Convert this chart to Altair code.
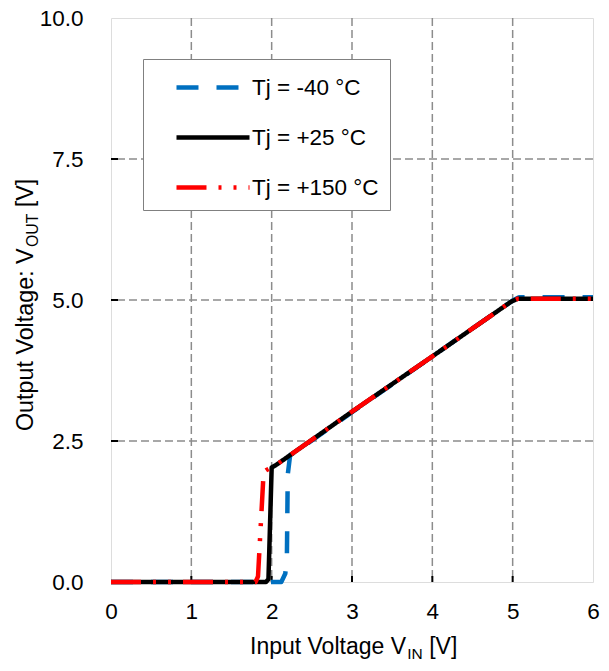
import altair as alt
import pandas as pd

series_names = ["Tj = -40 °C", "Tj = +25 °C", "Tj = +150 °C"]
colors = ["#0070C0", "#000000", "#FF0000"]
dashes = [[22, 18], [1, 0], [30, 12, 3, 12, 3, 12]]
widths = [4.5, 4.5, 3]

vin_m40 = [0, 2.12, 2.17, 2.19, 2.20, 2.23, 2.30, 3.0, 4.0, 5.0, 5.08, 6.0]
vout_m40 = [0, 0, 0.15, 0.5, 1.9, 2.25, 2.31, 3.01, 4.0, 4.99, 5.05, 5.05]

vin_25 = [0, 1.93, 1.96, 2.00, 2.05, 3.0, 4.0, 4.98, 5.06, 6.0]
vout_25 = [0, 0, 0.05, 2.03, 2.07, 3.02, 4.0, 4.97, 5.02, 5.02]

vin_150 = [0, 1.80, 1.83, 1.90, 1.93, 2.05, 3.0, 4.0, 4.98, 5.06, 6.0]
vout_150 = [0, 0, 0.1, 1.95, 1.98, 2.07, 3.02, 4.0, 4.97, 5.02, 5.02]

x_ticks = [0, 1, 2, 3, 4, 5, 6]
y_ticks = [0, 2.5, 5, 7.5, 10]
x_grid = [1, 2, 3, 4, 5]
y_grid = [2.5, 5, 7.5]

FONT = "Liberation Sans"
W, H = 482, 564

rows = []
for name, xs, ys in zip(series_names, [vin_m40, vin_25, vin_150], [vout_m40, vout_25, vout_150]):
    for i, (a, b) in enumerate(zip(xs, ys)):
        rows.append({"series": name, "vin": a, "vout": b, "i": i})
df = pd.DataFrame(rows)

xscale = alt.Scale(domain=[0, 6], nice=False, zero=False)
yscale = alt.Scale(domain=[0, 10], nice=False, zero=False)

legend = alt.Legend(
    title=None, orient="none", legendX=32, legendY=41,
    symbolType="M0.333,0H5.2", symbolSize=900,
    padding=11, rowPadding=21, labelOffset=63,
    labelFontSize=22.5, labelFont=FONT, labelColor="black",
    fillColor="white", strokeColor="#808080", symbolStrokeWidth=5,
)

def series_layer(name):
    return alt.Chart(df).transform_filter(alt.datum.series == name).mark_line(
        strokeJoin="round"
    ).encode(
        x=alt.X("vin:Q", scale=xscale,
                axis=alt.Axis(values=x_ticks, format="d", title=None, grid=False,
                              domain=False, ticks=False, labelPadding=18, labelFlush=False,
                              labelFontSize=22.5, labelFont=FONT, labelColor="black")),
        y=alt.Y("vout:Q", scale=yscale,
                axis=alt.Axis(values=y_ticks, format=".1f", title=None, grid=False,
                              domain=False, ticks=False, labelPadding=28, labelFlush=False,
                              labelFontSize=22.5, labelFont=FONT, labelColor="black")),
        color=alt.Color("series:N", scale=alt.Scale(domain=series_names, range=colors), legend=legend),
        strokeDash=alt.StrokeDash("series:N", scale=alt.Scale(domain=series_names, range=dashes), legend=legend),
        strokeWidth=alt.StrokeWidth("series:N", scale=alt.Scale(domain=series_names, range=widths), legend=None),
        order="i:Q",
    )

gx = alt.Chart(pd.DataFrame({"g": x_grid})).mark_rule(
    color="#8c8c8c", strokeWidth=1.5, strokeDash=[8, 4]
).encode(x=alt.X("g:Q", scale=xscale))
gy = alt.Chart(pd.DataFrame({"g": y_grid})).mark_rule(
    color="#8c8c8c", strokeWidth=1.5, strokeDash=[8, 4]
).encode(y=alt.Y("g:Q", scale=yscale))

tx = alt.Chart(pd.DataFrame({"g": x_grid})).mark_rule(color="black", strokeWidth=2).encode(
    x=alt.X("g:Q", scale=xscale), y=alt.value(H), y2=alt.value(H - 6))
ty = alt.Chart(pd.DataFrame({"g": y_grid})).mark_rule(color="black", strokeWidth=2).encode(
    y=alt.Y("g:Q", scale=yscale), x=alt.value(0), x2=alt.value(7))

# axis titles with subscripts
xt_parts = ["Input Voltage V", "IN", "[V]"]
yt_parts = ["Output Voltage: V", "OUT", "[V]"]

def txt(s, x, y, size, angle=0):
    return alt.Chart(pd.DataFrame({"t": [s]})).mark_text(
        align="left", baseline="alphabetic", font=FONT, fontSize=size, color="black", angle=angle
    ).encode(text="t:N", x=alt.value(x), y=alt.value(y))

SP = 6.4
x0 = 139
xb = 636
xt = (txt(xt_parts[0], x0, xb, 23)
      + txt(xt_parts[1], x0 + 157.3, xb + 4.5, 15.5)
      + txt(xt_parts[2], x0 + 157.3 + 15.5 + SP, xb, 23))

y0 = 413
yt = (txt(yt_parts[0], -78, y0, 23.3, 270)
      + txt(yt_parts[1], -73.5, y0 - 184, 15.8, 270)
      + txt(yt_parts[2], -78, y0 - 184 - 33.4 - SP, 23.3, 270))

chart = alt.layer(
    gx, gy, tx, ty,
    series_layer(series_names[0]),
    series_layer(series_names[1]),
    series_layer(series_names[2]),
    xt, yt,
).properties(
    width=W, height=H,
    autosize=alt.AutoSizeParams(type="none"),
    padding={"left": 103, "top": 10, "right": 8, "bottom": 80},
).configure_view(
    stroke="black", strokeWidth=3
).configure(font=FONT, background="white")

chart.save("out.html", embed_options={"renderer": "svg", "actions": False})
